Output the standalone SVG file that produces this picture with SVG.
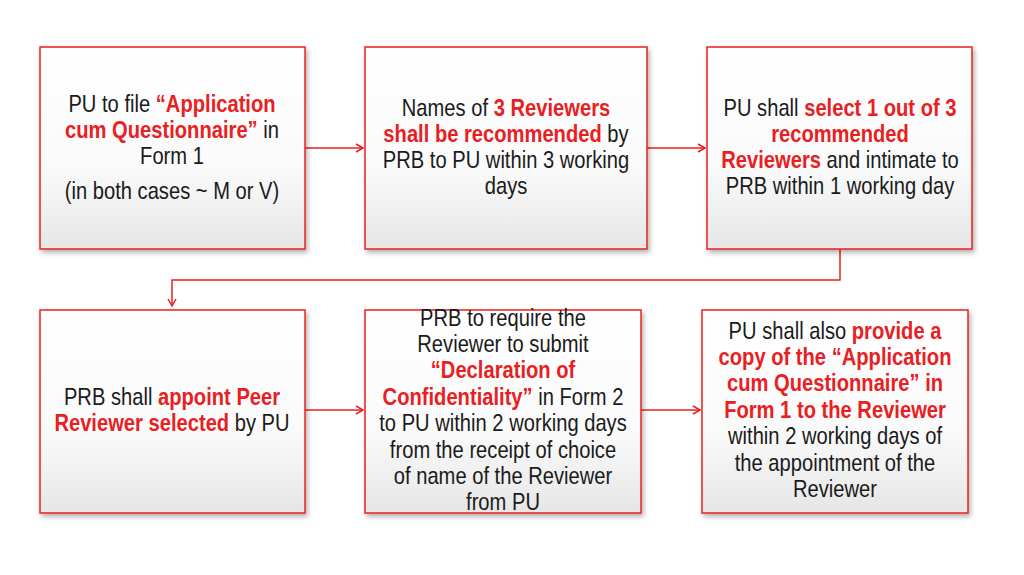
<svg xmlns="http://www.w3.org/2000/svg" width="1024" height="575" viewBox="0 0 1024 575">
<style>
.b{stroke:#e8201f;stroke-width:1.5;fill:url(#g);filter:url(#s)}
.t{font-family:"Liberation Sans",Arial,sans-serif;font-size:24px;fill:#1a1a1a;text-anchor:middle}
.r{fill:#e8201f;font-weight:bold}
.c{stroke:#e8201f;stroke-width:1.5;fill:none;marker-end:url(#a)}
</style>
<defs>
<linearGradient id="g" x1="0" y1="0" x2="0" y2="1"><stop offset="0" stop-color="#fff"/><stop offset="0.6" stop-color="#fafafa"/><stop offset="1" stop-color="#e6e6e6"/></linearGradient>
<filter id="s" x="-10%" y="-10%" width="120%" height="120%"><feDropShadow dx="2" dy="3" stdDeviation="2.5" flood-opacity="0.3"/></filter>
<marker id="a" markerWidth="10" markerHeight="10" refX="8" refY="5" orient="auto" markerUnits="userSpaceOnUse"><path d="M1,1 L8,5 L1,9" fill="none" stroke="#e8201f" stroke-width="1.5"/></marker>
</defs>
<rect width="1024" height="575" fill="#fff"/>
<g id="connectors">
<path class="c" d="M305,148 H363"/>
<path class="c" d="M647,148 H705"/>
<path class="c" d="M840,249 V280 H172 V306"/>
<path class="c" d="M305,410 H363"/>
<path class="c" d="M641,410 H700"/>
</g>
<g id="n1"><rect class="b" x="40" y="47" width="265" height="202"/>
<g transform="translate(172,0) scale(0.84,1)"><text class="t"><tspan x="0" y="112">PU to file <tspan class="r">“Application</tspan></tspan><tspan x="0" y="138"><tspan class="r">cum Questionnaire”</tspan> in</tspan><tspan x="0" y="164">Form 1</tspan><tspan x="0" y="199">(in both cases ~ M or V)</tspan></text></g></g>
<g id="n2"><rect class="b" x="365" y="47" width="282" height="202"/>
<g transform="translate(506,0) scale(0.84,1)"><text class="t"><tspan x="0" y="116">Names of <tspan class="r">3 Reviewers</tspan></tspan><tspan x="0" y="142"><tspan class="r">shall be recommended</tspan> by</tspan><tspan x="0" y="168">PRB to PU within 3 working</tspan><tspan x="0" y="194">days</tspan></text></g></g>
<g id="n3"><rect class="b" x="707" y="47" width="265" height="202"/>
<g transform="translate(840,0) scale(0.84,1)"><text class="t"><tspan x="0" y="116">PU shall <tspan class="r">select 1 out of 3</tspan></tspan><tspan x="0" y="142" class="r">recommended</tspan><tspan x="0" y="168"><tspan class="r">Reviewers</tspan> and intimate to</tspan><tspan x="0" y="194">PRB within 1 working day</tspan></text></g></g>
<g id="n4"><rect class="b" x="40" y="310" width="265" height="203"/>
<g transform="translate(172,0) scale(0.84,1)"><text class="t"><tspan x="0" y="405">PRB shall <tspan class="r">appoint Peer</tspan></tspan><tspan x="0" y="431"><tspan class="r">Reviewer selected</tspan> by PU</tspan></text></g></g>
<g id="n5"><rect class="b" x="365" y="310" width="276" height="203"/>
<g transform="translate(503,0) scale(0.84,1)"><text class="t"><tspan x="0" y="326">PRB to require the</tspan><tspan x="0" y="352">Reviewer to submit</tspan><tspan x="0" y="378" class="r">“Declaration of</tspan><tspan x="0" y="405"><tspan class="r">Confidentiality”</tspan> in Form 2</tspan><tspan x="0" y="431">to PU within 2 working days</tspan><tspan x="0" y="458">from the receipt of choice</tspan><tspan x="0" y="484">of name of the Reviewer</tspan><tspan x="0" y="510">from PU</tspan></text></g></g>
<g id="n6"><rect class="b" x="702" y="310" width="266" height="203"/>
<g transform="translate(835,0) scale(0.84,1)"><text class="t"><tspan x="0" y="339">PU shall also <tspan class="r">provide a</tspan></tspan><tspan x="0" y="365" class="r">copy of the “Application</tspan><tspan x="0" y="391" class="r">cum Questionnaire” in</tspan><tspan x="0" y="418" class="r">Form 1 to the Reviewer</tspan><tspan x="0" y="444">within 2 working days of</tspan><tspan x="0" y="471">the appointment of the</tspan><tspan x="0" y="497">Reviewer</tspan></text></g></g>
</svg>
